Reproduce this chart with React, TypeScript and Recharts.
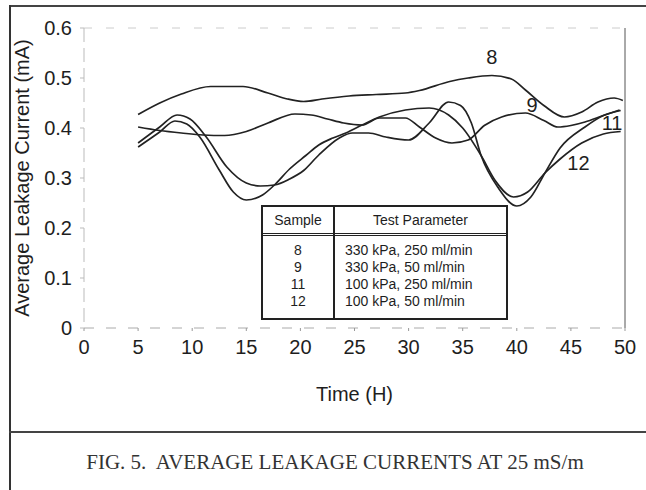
import React from 'react';
import { LineChart, Line, XAxis, YAxis, ReferenceLine, ReferenceDot, Label } from 'recharts';

const xTicks = [0, 5, 10, 15, 20, 25, 30, 35, 40, 45, 50];
const yTicks = [0, 0.1, 0.2, 0.3, 0.4, 0.5, 0.6];

const sample8 = [
  { t: 5, v: 0.427 }, { t: 7, v: 0.45 }, { t: 9, v: 0.468 }, { t: 11.7, v: 0.483 },
  { t: 14.7, v: 0.483 }, { t: 17, v: 0.47 }, { t: 18.8, v: 0.458 }, { t: 20.3, v: 0.453 },
  { t: 22, v: 0.458 }, { t: 24.5, v: 0.464 }, { t: 27, v: 0.467 }, { t: 29.7, v: 0.47 },
  { t: 31, v: 0.475 }, { t: 33.8, v: 0.493 }, { t: 35.5, v: 0.5 }, { t: 37.7, v: 0.505 },
  { t: 39.5, v: 0.498 }, { t: 40.8, v: 0.476 }, { t: 42.5, v: 0.445 }, { t: 44.4, v: 0.422 },
  { t: 46, v: 0.432 }, { t: 47.5, v: 0.452 }, { t: 49, v: 0.46 }, { t: 49.8, v: 0.455 },
];

const sample9 = [
  { t: 5, v: 0.402 }, { t: 7, v: 0.395 }, { t: 9, v: 0.39 }, { t: 11, v: 0.386 },
  { t: 13, v: 0.385 }, { t: 15, v: 0.393 }, { t: 17, v: 0.41 }, { t: 19.5, v: 0.428 },
  { t: 21, v: 0.426 }, { t: 22.5, v: 0.418 }, { t: 24, v: 0.41 }, { t: 25.7, v: 0.406 },
  { t: 27.3, v: 0.42 }, { t: 29.7, v: 0.42 }, { t: 31, v: 0.402 }, { t: 32.5, v: 0.38 },
  { t: 34, v: 0.37 }, { t: 35.5, v: 0.376 }, { t: 37, v: 0.405 }, { t: 38.6, v: 0.422 },
  { t: 40.8, v: 0.43 }, { t: 42.5, v: 0.415 }, { t: 43.8, v: 0.402 }, { t: 45, v: 0.405 },
  { t: 46.3, v: 0.412 }, { t: 48, v: 0.425 }, { t: 49.5, v: 0.436 },
];

const sample11 = [
  { t: 5, v: 0.37 }, { t: 7, v: 0.402 }, { t: 8.6, v: 0.426 }, { t: 9.8, v: 0.418 },
  { t: 11.3, v: 0.382 }, { t: 13.2, v: 0.322 }, { t: 15, v: 0.29 }, { t: 16.3, v: 0.284 },
  { t: 17.6, v: 0.286 }, { t: 19, v: 0.298 }, { t: 20.3, v: 0.315 }, { t: 21.7, v: 0.346 },
  { t: 23.6, v: 0.38 }, { t: 24.8, v: 0.39 }, { t: 26.3, v: 0.39 }, { t: 27.9, v: 0.382 },
  { t: 30, v: 0.376 }, { t: 31.9, v: 0.41 }, { t: 33.7, v: 0.452 }, { t: 34.8, v: 0.445 },
  { t: 35.8, v: 0.41 }, { t: 36.7, v: 0.345 }, { t: 38.3, v: 0.28 }, { t: 40, v: 0.244 },
  { t: 41.3, v: 0.262 }, { t: 42.6, v: 0.31 }, { t: 44, v: 0.36 }, { t: 46.3, v: 0.402 },
  { t: 48, v: 0.425 }, { t: 49.6, v: 0.435 },
];

const sample12 = [
  { t: 5, v: 0.362 }, { t: 7, v: 0.392 }, { t: 8.4, v: 0.414 }, { t: 9.5, v: 0.408 },
  { t: 10.7, v: 0.382 }, { t: 12.5, v: 0.316 }, { t: 13.8, v: 0.272 }, { t: 15, v: 0.256 },
  { t: 16.5, v: 0.266 }, { t: 17.6, v: 0.286 }, { t: 19, v: 0.318 }, { t: 20.5, v: 0.345 },
  { t: 21.7, v: 0.366 }, { t: 23, v: 0.38 }, { t: 24.2, v: 0.39 }, { t: 25.7, v: 0.406 },
  { t: 27.3, v: 0.422 }, { t: 29.7, v: 0.436 }, { t: 31.9, v: 0.44 }, { t: 33.7, v: 0.426 },
  { t: 35, v: 0.4 }, { t: 36.7, v: 0.345 }, { t: 38, v: 0.295 }, { t: 39.7, v: 0.262 },
  { t: 41, v: 0.272 }, { t: 42.6, v: 0.31 }, { t: 44, v: 0.338 }, { t: 46, v: 0.37 },
  { t: 48, v: 0.388 }, { t: 49.6, v: 0.393 },
];

const curveLabels = [
  { name: '8', t: 37.7, v: 0.542 },
  { name: '9', t: 41.4, v: 0.446 },
  { name: '11', t: 48.8, v: 0.41 },
  { name: '12', t: 45.7, v: 0.33 },
];

const tableRows = [
  { sample: '8', param: '330 kPa, 250 ml/min' },
  { sample: '9', param: '330 kPa, 50 ml/min' },
  { sample: '11', param: '100 kPa, 250 ml/min' },
  { sample: '12', param: '100 kPa, 50 ml/min' },
];

const series = [sample8, sample9, sample11, sample12];

const font = 'Liberation Sans, Arial, sans-serif';
const ink = '#1e1e1e';

export default function App() {
  return (
    <div style={{ position: 'absolute', left: 0, top: 0, width: 646, height: 490, background: '#fff', overflow: 'hidden', fontFamily: font }}>
      {/* frame */}
      <div style={{ position: 'absolute', left: 9, top: 5, width: 637, height: 0, borderTop: '2px solid #444' }} />
      <div style={{ position: 'absolute', left: 9, top: 5, width: 0, height: 485, borderLeft: '2px solid #333' }} />
      <div style={{ position: 'absolute', left: 9, top: 431, width: 637, height: 0, borderTop: '2px solid #444' }} />

      <div style={{ position: 'absolute', left: 0, top: 0 }}>
        <LineChart width={646} height={432} margin={{ top: 28, right: 21, left: 0, bottom: 28 }}>
          <XAxis
            type="number"
            dataKey="t"
            domain={[0, 50]}
            ticks={xTicks}
            interval={0}
            height={76}
            tickSize={3}
            tickMargin={9}
            axisLine={{ stroke: '#aaa', strokeDasharray: '10 12' }}
            tickLine={{ stroke: '#999' }}
            tick={{ fontSize: 20, fill: ink, fontFamily: font }}
          >
            <Label value="Time (H)" position="insideBottom" offset={3} style={{ fontSize: 20, fill: ink, fontFamily: font }} />
          </XAxis>
          <YAxis
            type="number"
            dataKey="v"
            domain={[0, 0.6]}
            ticks={yTicks}
            interval={0}
            width={84}
            tickSize={4}
            tickMargin={8}
            axisLine={{ stroke: '#bbb', strokeDasharray: '14 6' }}
            tickLine={{ stroke: '#bbb' }}
            tick={{ fontSize: 20, fill: ink, fontFamily: font }}
          >
            <Label value="Average Leakage Current (mA)" angle={-90} position="center" dx={-20} style={{ fontSize: 20, fill: ink, fontFamily: font, textAnchor: 'middle' }} />
          </YAxis>
          <ReferenceLine y={0.6} stroke="#ccc" strokeDasharray="8 14" />
          <ReferenceLine x={50} stroke="#555" strokeWidth={1} />
          {series.map((d, i) => (
            <Line
              key={i}
              data={d}
              dataKey="v"
              type="monotone"
              stroke="#222"
              strokeWidth={1.7}
              dot={false}
              activeDot={false}
              isAnimationActive={false}
            />
          ))}
          {curveLabels.map((c) => (
            <ReferenceDot
              key={c.name}
              x={c.t}
              y={c.v}
              r={0}
              stroke="none"
              fill="none"
              label={{ value: c.name, position: 'center', fontSize: 20, fill: ink, fontFamily: font }}
            />
          ))}
        </LineChart>
      </div>

      {/* legend table */}
      <div
        style={{
          position: 'absolute', left: 261, top: 205, width: 243, height: 111,
          border: '2px solid #222', background: '#fff', fontSize: 14, color: ink, display: 'flex',
        }}
      >
        <div style={{ width: 70, borderRight: '2px solid #222', display: 'flex', flexDirection: 'column' }}>
          <div style={{ height: 26, lineHeight: '26px', textAlign: 'center', borderBottom: '3px double #222' }}>Sample</div>
          <div style={{ paddingTop: 6, textAlign: 'center', lineHeight: '17px' }}>
            {tableRows.map((r) => (<div key={r.sample}>{r.sample}</div>))}
          </div>
        </div>
        <div style={{ flex: 1, display: 'flex', flexDirection: 'column' }}>
          <div style={{ height: 26, lineHeight: '26px', textAlign: 'center', borderBottom: '3px double #222' }}>Test Parameter</div>
          <div style={{ paddingTop: 6, paddingLeft: 10, lineHeight: '17px' }}>
            {tableRows.map((r) => (<div key={r.sample}>{r.param}</div>))}
          </div>
        </div>
      </div>

      {/* caption */}
      <div style={{ position: 'absolute', left: 0, top: 450, width: 670, textAlign: 'center', fontFamily: 'Liberation Serif, Times New Roman, serif', fontSize: 21, color: '#333', whiteSpace: 'pre' }}>
        {'FIG. 5.  AVERAGE LEAKAGE CURRENTS AT 25 mS/m'}
      </div>
    </div>
  );
}
